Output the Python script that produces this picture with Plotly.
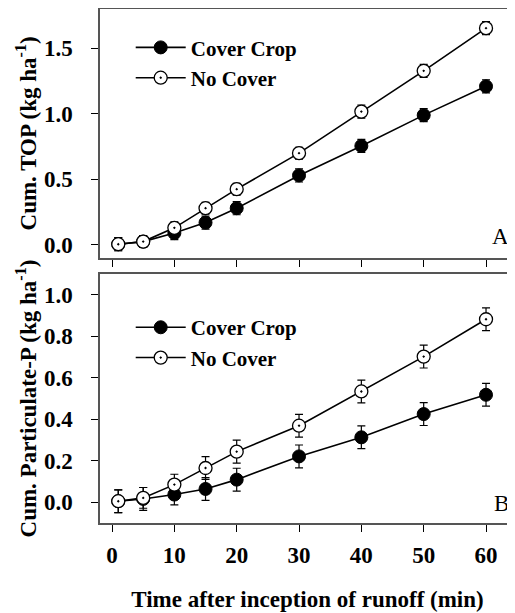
import plotly.graph_objects as go

# ---- data ----
time_min = [1, 5, 10, 15, 20, 30, 40, 50, 60]

top_cover = [0.005, 0.025, 0.09, 0.17, 0.28, 0.53, 0.755, 0.99, 1.21]
top_cover_err = [0.05, 0.045, 0.05, 0.05, 0.05, 0.05, 0.05, 0.05, 0.05]
top_nocover = [0.005, 0.025, 0.13, 0.28, 0.425, 0.70, 1.017, 1.328, 1.654]
top_nocover_err = [0.05, 0.045, 0.045, 0.045, 0.045, 0.045, 0.05, 0.05, 0.05]

pp_cover = [0.005, 0.016, 0.037, 0.064, 0.109, 0.221, 0.313, 0.425, 0.518]
pp_cover_err = [0.055, 0.055, 0.05, 0.055, 0.055, 0.055, 0.055, 0.055, 0.055]
pp_nocover = [0.005, 0.021, 0.085, 0.165, 0.244, 0.369, 0.534, 0.702, 0.882]
pp_nocover_err = [0.055, 0.05, 0.05, 0.055, 0.055, 0.055, 0.055, 0.055, 0.055]

series_names = ["Cover Crop", "No Cover"]
x_ticks = [0, 10, 20, 30, 40, 50, 60]
top_yticks = [0.0, 0.5, 1.0, 1.5]
pp_yticks = [0.0, 0.2, 0.4, 0.6, 0.8, 1.0]
top_ytitle = "Cum. TOP (kg ha<sup>-1</sup>)"
pp_ytitle = "Cum. Particulate-P (kg ha<sup>-1</sup>)"
xtitle = "Time after inception of runoff (min)"

FONT = "Liberation Serif"
AX = "#555555"

fig = go.Figure()

def add_pair(xa, ya, legend, cover, cover_err, nocover, nocover_err):
    fig.add_trace(go.Scatter(
        x=time_min, y=cover, name=series_names[0], mode="lines+markers",
        xaxis=xa, yaxis=ya, legend=legend,
        line=dict(color="black", width=1.6),
        marker=dict(symbol="circle", size=13, color="black", line=dict(color="black", width=1)),
        error_y=dict(type="data", array=cover_err, color="black", thickness=1.2, width=4),
    ))
    fig.add_trace(go.Scatter(
        x=time_min, y=nocover, name=series_names[1], mode="lines+markers",
        xaxis=xa, yaxis=ya, legend=legend,
        line=dict(color="black", width=1.6),
        marker=dict(symbol="circle-dot", size=13, color="white", line=dict(color="black", width=1.3)),
        error_y=dict(type="data", array=nocover_err, color="black", thickness=1.2, width=4),
    ))

add_pair("x", "y", "legend", top_cover, top_cover_err, top_nocover, top_nocover_err)
add_pair("x2", "y2", "legend2", pp_cover, pp_cover_err, pp_nocover, pp_nocover_err)

tickfont = dict(family=FONT, size=23, color="black", weight="bold")
titlefont = dict(family=FONT, size=23, color="black", weight="bold")

common_x = dict(range=[-1.93, 64.65], tickvals=x_ticks, showline=True, linecolor=AX, linewidth=1.5,
                mirror=True, ticks="outside", ticklen=7, tickcolor="black", tickwidth=1,
                showgrid=False, zeroline=False)
common_y = dict(showline=True, linecolor=AX, linewidth=1.5, mirror=False, ticks="outside",
                ticklen=7, tickcolor="black", tickwidth=1, showgrid=False, zeroline=False,
                tickformat=".1f", tickfont=tickfont, ticklabelstandoff=14)

TOP_DOM = [0.5156, 1.0]
BOT_DOM = [0.0, 0.4844]

# the page body adds an 8px offset; size the figure to fill the rest of the window
fig.update_layout(
    width=507, height=605,
    margin=dict(l=92, r=0, t=1, b=90),
    paper_bgcolor="white", plot_bgcolor="white",
    showlegend=True,
    xaxis=dict(common_x, anchor="y", showticklabels=False),
    yaxis=dict(common_y, domain=TOP_DOM, range=[-0.1, 1.8], tickvals=top_yticks, anchor="x"),
    xaxis2=dict(common_x, anchor="y2", tickfont=tickfont, ticklabelstandoff=4,
                title=dict(text=xtitle, font=titlefont, standoff=24)),
    yaxis2=dict(common_y, domain=BOT_DOM, range=[-0.1, 1.1], tickvals=pp_yticks, anchor="x2"),
    legend=dict(x=0.074, y=0.9645, xanchor="left", yanchor="top", bgcolor="rgba(0,0,0,0)",
                font=dict(family=FONT, size=21, color="black", weight="bold"), itemwidth=50, tracegroupgap=0),
    legend2=dict(x=0.074, y=0.420, xanchor="left", yanchor="top", bgcolor="rgba(0,0,0,0)",
                 font=dict(family=FONT, size=21, color="black", weight="bold"), itemwidth=50, tracegroupgap=0),
    annotations=[
        dict(text=top_ytitle, x=-0.176, y=sum(TOP_DOM) / 2, xref="paper", yref="paper",
             textangle=-90, showarrow=False, xanchor="center", yanchor="middle", font=titlefont),
        dict(text=pp_ytitle, x=-0.176, y=sum(BOT_DOM) / 2, xref="paper", yref="paper",
             textangle=-90, showarrow=False, xanchor="center", yanchor="middle", font=titlefont),
        dict(text="A", x=0.99, y=0.557, xref="paper", yref="paper", showarrow=False,
             font=dict(family=FONT, size=23, color="black")),
        dict(text="B", x=0.99, y=0.01, xref="paper", yref="paper", showarrow=False,
             font=dict(family=FONT, size=23, color="black")),
    ],
)

fig.write_html("out.html")
